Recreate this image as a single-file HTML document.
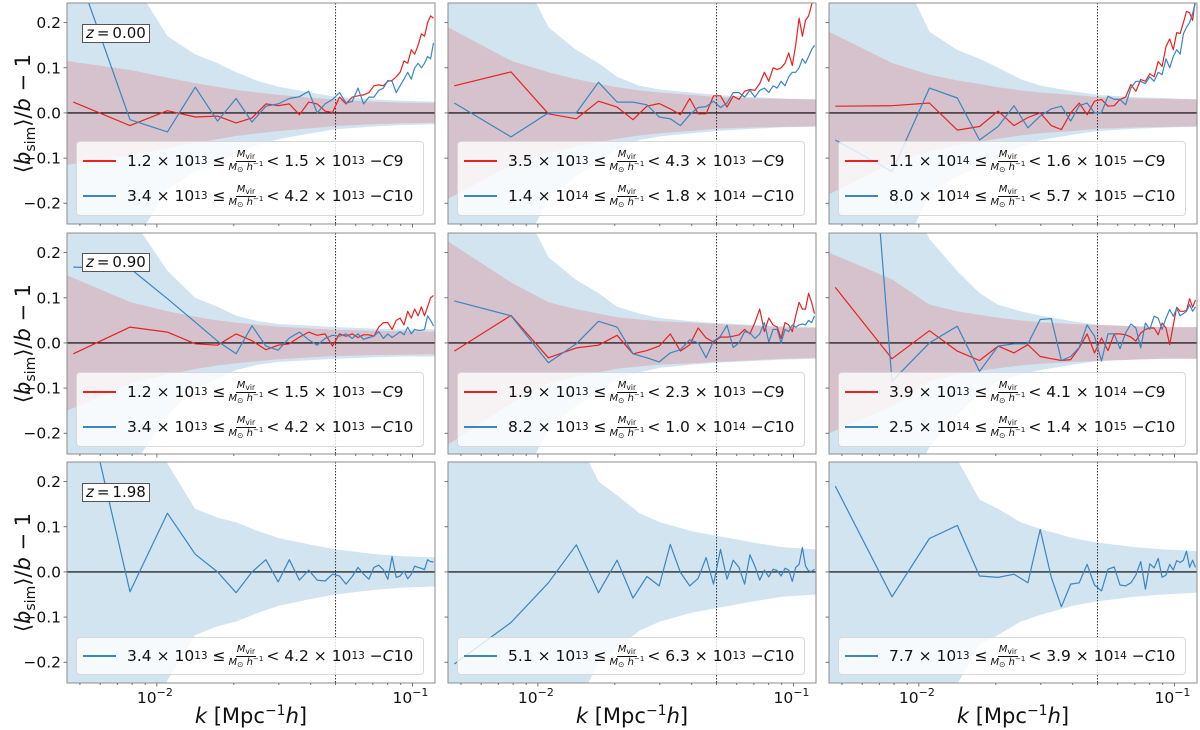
<!DOCTYPE html>
<html><head><meta charset="utf-8">
<style>
html,body{margin:0;padding:0;background:#fff;overflow:hidden;width:1200px;height:730px;}
#wrap{position:relative;width:1200px;height:730px;overflow:hidden;font-family:"DejaVu Sans","Liberation Sans",sans-serif;}
svg{position:absolute;left:0;top:0;}
.legend{position:absolute;width:348px;background:rgba(255,255,255,0.8);border:1px solid #d8d8d8;border-radius:4px;box-sizing:border-box;}
.entry{position:absolute;left:0;height:34px;display:flex;align-items:center;font-size:15.5px;color:#111;white-space:nowrap;}
.sw{display:inline-block;width:33px;height:1.6px;margin-left:6px;margin-right:11px;}
.frac{display:inline-flex;flex-direction:column;align-items:center;font-size:10px;line-height:12px;margin:0 3px;vertical-align:middle;}
.frac .num{border-bottom:1px solid #111;padding:0 1px;}
sup{font-size:10.5px;vertical-align:7px;line-height:0;}
sub{font-size:7.5px;vertical-align:-2px;line-height:0;}
.zbox{position:absolute;height:19px;padding:0 3px;border:1px solid #555;background:#fff;box-sizing:border-box;font-size:15px;line-height:17px;text-align:center;color:#111;white-space:nowrap;}
</style></head>
<body>
<div id="wrap">
<svg id="chart" width="1200" height="730"></svg>

<div class="zbox" style="left:82px;top:24px"><i>z</i>&#8201;=&#8201;0.00</div>
<div class="zbox" style="left:82px;top:253px"><i>z</i>&#8201;=&#8201;0.90</div>
<div class="zbox" style="left:82px;top:483px"><i>z</i>&#8201;=&#8201;1.98</div>

<div class="legend" style="left:76px;top:141px;height:75px">
 <div class="entry" style="top:2px"><span class="sw" style="background:#e8221f"></span>1.2 × 10<sup>13</sup>&nbsp;≤<span class="frac"><span class="num"><i>M</i><sub>vir</sub></span><span><i>M</i><sub>⊙</sub> <i>h</i><sup style="font-size:7px;vertical-align:4px">−1</sup></span></span>&lt; 1.5 × 10<sup>13</sup>&nbsp;− <i>C</i>9</div>
 <div class="entry" style="top:37px"><span class="sw" style="background:#3a85c2"></span>3.4 × 10<sup>13</sup>&nbsp;≤<span class="frac"><span class="num"><i>M</i><sub>vir</sub></span><span><i>M</i><sub>⊙</sub> <i>h</i><sup style="font-size:7px;vertical-align:4px">−1</sup></span></span>&lt; 4.2 × 10<sup>13</sup>&nbsp;− <i>C</i>10</div>
</div>
<div class="legend" style="left:457px;top:141px;height:75px">
 <div class="entry" style="top:2px"><span class="sw" style="background:#e8221f"></span>3.5 × 10<sup>13</sup>&nbsp;≤<span class="frac"><span class="num"><i>M</i><sub>vir</sub></span><span><i>M</i><sub>⊙</sub> <i>h</i><sup style="font-size:7px;vertical-align:4px">−1</sup></span></span>&lt; 4.3 × 10<sup>13</sup>&nbsp;− <i>C</i>9</div>
 <div class="entry" style="top:37px"><span class="sw" style="background:#3a85c2"></span>1.4 × 10<sup>14</sup>&nbsp;≤<span class="frac"><span class="num"><i>M</i><sub>vir</sub></span><span><i>M</i><sub>⊙</sub> <i>h</i><sup style="font-size:7px;vertical-align:4px">−1</sup></span></span>&lt; 1.8 × 10<sup>14</sup>&nbsp;− <i>C</i>10</div>
</div>
<div class="legend" style="left:838px;top:141px;height:75px">
 <div class="entry" style="top:2px"><span class="sw" style="background:#e8221f"></span>1.1 × 10<sup>14</sup>&nbsp;≤<span class="frac"><span class="num"><i>M</i><sub>vir</sub></span><span><i>M</i><sub>⊙</sub> <i>h</i><sup style="font-size:7px;vertical-align:4px">−1</sup></span></span>&lt; 1.6 × 10<sup>15</sup>&nbsp;− <i>C</i>9</div>
 <div class="entry" style="top:37px"><span class="sw" style="background:#3a85c2"></span>8.0 × 10<sup>14</sup>&nbsp;≤<span class="frac"><span class="num"><i>M</i><sub>vir</sub></span><span><i>M</i><sub>⊙</sub> <i>h</i><sup style="font-size:7px;vertical-align:4px">−1</sup></span></span>&lt; 5.7 × 10<sup>15</sup>&nbsp;− <i>C</i>10</div>
</div>
<div class="legend" style="left:76px;top:372px;height:75px">
 <div class="entry" style="top:2px"><span class="sw" style="background:#e8221f"></span>1.2 × 10<sup>13</sup>&nbsp;≤<span class="frac"><span class="num"><i>M</i><sub>vir</sub></span><span><i>M</i><sub>⊙</sub> <i>h</i><sup style="font-size:7px;vertical-align:4px">−1</sup></span></span>&lt; 1.5 × 10<sup>13</sup>&nbsp;− <i>C</i>9</div>
 <div class="entry" style="top:37px"><span class="sw" style="background:#3a85c2"></span>3.4 × 10<sup>13</sup>&nbsp;≤<span class="frac"><span class="num"><i>M</i><sub>vir</sub></span><span><i>M</i><sub>⊙</sub> <i>h</i><sup style="font-size:7px;vertical-align:4px">−1</sup></span></span>&lt; 4.2 × 10<sup>13</sup>&nbsp;− <i>C</i>10</div>
</div>
<div class="legend" style="left:457px;top:372px;height:75px">
 <div class="entry" style="top:2px"><span class="sw" style="background:#e8221f"></span>1.9 × 10<sup>13</sup>&nbsp;≤<span class="frac"><span class="num"><i>M</i><sub>vir</sub></span><span><i>M</i><sub>⊙</sub> <i>h</i><sup style="font-size:7px;vertical-align:4px">−1</sup></span></span>&lt; 2.3 × 10<sup>13</sup>&nbsp;− <i>C</i>9</div>
 <div class="entry" style="top:37px"><span class="sw" style="background:#3a85c2"></span>8.2 × 10<sup>13</sup>&nbsp;≤<span class="frac"><span class="num"><i>M</i><sub>vir</sub></span><span><i>M</i><sub>⊙</sub> <i>h</i><sup style="font-size:7px;vertical-align:4px">−1</sup></span></span>&lt; 1.0 × 10<sup>14</sup>&nbsp;− <i>C</i>10</div>
</div>
<div class="legend" style="left:838px;top:372px;height:75px">
 <div class="entry" style="top:2px"><span class="sw" style="background:#e8221f"></span>3.9 × 10<sup>13</sup>&nbsp;≤<span class="frac"><span class="num"><i>M</i><sub>vir</sub></span><span><i>M</i><sub>⊙</sub> <i>h</i><sup style="font-size:7px;vertical-align:4px">−1</sup></span></span>&lt; 4.1 × 10<sup>14</sup>&nbsp;− <i>C</i>9</div>
 <div class="entry" style="top:37px"><span class="sw" style="background:#3a85c2"></span>2.5 × 10<sup>14</sup>&nbsp;≤<span class="frac"><span class="num"><i>M</i><sub>vir</sub></span><span><i>M</i><sub>⊙</sub> <i>h</i><sup style="font-size:7px;vertical-align:4px">−1</sup></span></span>&lt; 1.4 × 10<sup>15</sup>&nbsp;− <i>C</i>10</div>
</div>
<div class="legend" style="left:76px;top:637px;height:38px">
 <div class="entry" style="top:1px"><span class="sw" style="background:#3a85c2"></span>3.4 × 10<sup>13</sup>&nbsp;≤<span class="frac"><span class="num"><i>M</i><sub>vir</sub></span><span><i>M</i><sub>⊙</sub> <i>h</i><sup style="font-size:7px;vertical-align:4px">−1</sup></span></span>&lt; 4.2 × 10<sup>13</sup>&nbsp;− <i>C</i>10</div>
</div>
<div class="legend" style="left:457px;top:637px;height:38px">
 <div class="entry" style="top:1px"><span class="sw" style="background:#3a85c2"></span>5.1 × 10<sup>13</sup>&nbsp;≤<span class="frac"><span class="num"><i>M</i><sub>vir</sub></span><span><i>M</i><sub>⊙</sub> <i>h</i><sup style="font-size:7px;vertical-align:4px">−1</sup></span></span>&lt; 6.3 × 10<sup>13</sup>&nbsp;− <i>C</i>10</div>
</div>
<div class="legend" style="left:838px;top:637px;height:38px">
 <div class="entry" style="top:1px"><span class="sw" style="background:#3a85c2"></span>7.7 × 10<sup>13</sup>&nbsp;≤<span class="frac"><span class="num"><i>M</i><sub>vir</sub></span><span><i>M</i><sub>⊙</sub> <i>h</i><sup style="font-size:7px;vertical-align:4px">−1</sup></span></span>&lt; 3.9 × 10<sup>14</sup>&nbsp;− <i>C</i>10</div>
</div>
</div>

<script>
const kVals = [0.00471,0.00785,0.01099,0.01413,0.01727,0.02041,0.02355,0.02669,0.02983,0.03297,0.03611,0.03925,0.04239,0.04553,0.04867,0.05181,0.05495,0.05809,0.06123,0.06437,0.06751,0.07065,0.07379,0.07693,0.08007,0.08321,0.08635,0.08949,0.09263,0.09577,0.09891,0.10205,0.10519,0.10833,0.11147,0.11461,0.11775,0.12089];
const bandK = [0.00445,0.0079,0.011,0.0141,0.0173,0.0204,0.025,0.03,0.04,0.05,0.07,0.09,0.123];
const yTicks = [-0.2,-0.1,0.0,0.1,0.2];
const yTickLabels = ["\u22120.2","\u22120.1","0.0","0.1","0.2"];
const kCut = 0.05;

const red_r1c1 = [0.024,-0.028,0.005,-0.009,-0.007,-0.022,-0.011,0.020,0.016,0.020,-0.004,0.024,0.020,0.004,0.001,0.035,0.020,0.035,0.038,0.040,0.045,0.060,0.062,0.060,0.070,0.072,0.080,0.090,0.115,0.110,0.140,0.130,0.150,0.175,0.170,0.200,0.215,0.210];
const blue_r1c1 = [0.34,-0.015,-0.042,0.057,-0.018,0.032,-0.020,0.015,0.020,0.032,0.036,0.048,0.000,0.020,0.030,0.045,0.022,0.025,0.055,0.020,0.035,0.035,0.050,0.055,0.072,0.070,0.045,0.060,0.075,0.090,0.075,0.100,0.110,0.100,0.110,0.125,0.120,0.155];
const red_r1c2 = [0.060,0.091,-0.002,-0.013,0.026,0.013,-0.015,0.015,0.021,0.009,-0.004,0.032,-0.002,-0.002,0.038,0.038,0.013,0.037,0.030,0.048,0.052,0.050,0.065,0.090,0.070,0.100,0.096,0.100,0.110,0.133,0.105,0.150,0.210,0.170,0.205,0.215,0.240,0.260];
const blue_r1c2 = [0.022,-0.053,0.000,0.000,0.068,0.024,0.024,0.018,-0.009,-0.013,-0.028,-0.004,0.012,0.014,0.026,0.012,0.022,0.045,0.045,0.035,0.050,0.035,0.050,0.055,0.045,0.060,0.055,0.070,0.060,0.080,0.090,0.090,0.100,0.120,0.110,0.125,0.140,0.150];
const red_r1c3 = [0.015,0.016,0.022,-0.038,-0.030,0.004,-0.028,-0.010,0.000,-0.028,-0.037,0.000,0.022,-0.004,0.026,0.030,0.015,0.016,0.030,0.035,0.063,0.048,0.074,0.070,0.087,0.080,0.114,0.103,0.147,0.164,0.140,0.178,0.176,0.200,0.225,0.222,0.205,0.255];
const blue_r1c3 = [-0.06,-0.13,0.055,0.033,-0.06,-0.03,0.016,-0.033,-0.007,0.009,0.015,-0.018,0.016,0.022,0.0,0.001,0.037,0.03,0.03,0.018,0.055,0.07,0.07,0.065,0.08,0.07,0.09,0.085,0.12,0.1,0.125,0.14,0.13,0.175,0.19,0.2,0.22,0.245];
const red_r2c1 = [-0.024,0.035,0.024,-0.002,-0.005,0.020,0.005,-0.015,-0.005,-0.002,0.013,0.024,0.017,0.020,-0.007,0.020,0.015,0.020,0.012,0.018,0.018,0.015,0.035,0.045,0.045,0.030,0.050,0.055,0.040,0.070,0.055,0.075,0.060,0.080,0.060,0.080,0.100,0.105];
const blue_r2c1 = [0.168,0.165,0.098,0.046,0.004,-0.024,0.038,-0.007,-0.016,0.011,0.024,0.007,-0.005,0.010,0.017,0.015,0.020,0.010,0.020,0.008,0.012,0.015,0.025,0.010,0.020,0.012,0.018,0.025,0.018,0.035,0.020,0.030,0.028,0.028,0.030,0.060,0.050,0.038];
const red_r2c2 = [-0.018,0.061,-0.033,-0.011,-0.005,0.017,-0.024,-0.017,-0.007,0.020,-0.018,-0.004,0.033,0.011,0.002,0.013,0.013,0.015,0.018,0.030,0.020,0.045,0.075,0.025,0.055,0.040,0.035,0.010,0.045,0.040,0.025,0.060,0.090,0.075,0.075,0.110,0.090,0.065];
const blue_r2c2 = [0.093,0.060,-0.044,-0.002,0.048,0.035,-0.024,-0.033,-0.042,-0.022,-0.015,0.007,0.000,-0.033,0.004,0.015,0.039,-0.010,0.000,0.025,0.022,0.010,0.020,0.045,0.002,0.030,0.030,0.000,0.030,0.025,0.040,0.035,0.040,0.042,0.040,0.050,0.045,0.060];
const red_r2c3 = [0.123,-0.035,0.027,-0.018,-0.039,-0.007,-0.022,-0.004,-0.030,-0.035,-0.039,-0.037,-0.011,0.020,-0.022,0.011,-0.017,0.020,0.020,0.018,0.013,0.004,0.022,0.030,0.033,0.033,0.018,0.044,0.033,-0.004,0.040,0.079,0.070,0.070,0.072,0.098,0.079,0.095];
const blue_r2c3 = [1.5,-0.085,0.000,0.037,-0.063,-0.007,-0.002,-0.002,0.052,0.054,-0.039,-0.030,-0.010,0.040,0.015,-0.040,0.020,0.020,-0.013,0.022,0.042,0.033,-0.011,0.044,0.030,0.059,0.055,0.030,0.055,0.074,0.059,0.077,0.060,0.065,0.070,0.085,0.070,0.080];
const blue_r3c1 = [0.50,-0.044,0.130,0.039,0.000,-0.046,0.000,0.027,-0.022,0.027,-0.018,0.004,-0.018,-0.020,-0.005,-0.009,-0.027,-0.010,0.010,-0.005,-0.016,0.010,0.015,0.005,-0.016,0.034,-0.012,-0.009,0.002,-0.015,-0.005,0.013,0.010,0.008,0.005,0.027,0.023,0.022];
const blue_r3c2 = [-0.204,-0.112,-0.024,0.060,-0.046,0.026,-0.058,-0.010,-0.031,0.061,-0.001,-0.031,-0.014,0.032,-0.027,0.050,-0.016,0.026,0.010,-0.027,0.038,0.013,-0.018,0.004,-0.011,0.006,0.003,-0.009,0.008,0.004,-0.021,0.010,0.017,0.054,0.013,0.002,0.001,0.006];
const blue_r3c3 = [0.190,-0.055,0.074,0.103,-0.009,-0.012,-0.005,-0.024,0.094,-0.012,-0.077,-0.027,-0.024,0.017,-0.029,-0.042,0.006,0.011,-0.029,-0.031,-0.024,-0.007,0.023,-0.038,0.018,0.009,0.030,-0.012,-0.007,0.017,0.004,0.025,0.021,0.026,0.046,0.010,0.026,0.010];

const bandBlue_r1c1 = [0.45,0.30,0.17,0.13,0.11,0.09,0.07,0.058,0.045,0.036,0.03,0.027,0.025];
const bandRed_r1c1 = [0.115,0.095,0.078,0.066,0.058,0.051,0.045,0.04,0.034,0.029,0.025,0.023,0.022];
const bandBlue_r1c2 = [0.5,0.35,0.19,0.14,0.11,0.08,0.06,0.052,0.045,0.04,0.035,0.032,0.03];
const bandRed_r1c2 = [0.19,0.115,0.09,0.075,0.065,0.057,0.05,0.045,0.04,0.035,0.032,0.031,0.03];
const bandBlue_r1c3 = [0.5,0.35,0.18,0.14,0.12,0.10,0.075,0.06,0.048,0.04,0.035,0.033,0.03];
const bandRed_r1c3 = [0.18,0.11,0.085,0.072,0.064,0.057,0.05,0.045,0.04,0.035,0.032,0.031,0.03];
const bandBlue_r2c1 = [0.45,0.28,0.16,0.10,0.08,0.06,0.048,0.042,0.038,0.035,0.032,0.03,0.03];
const bandRed_r2c1 = [0.15,0.09,0.07,0.058,0.05,0.045,0.04,0.036,0.032,0.029,0.027,0.026,0.025];
const bandBlue_r2c2 = [0.5,0.35,0.19,0.14,0.11,0.08,0.065,0.055,0.048,0.044,0.04,0.037,0.035];
const bandRed_r2c2 = [0.225,0.133,0.09,0.075,0.065,0.057,0.052,0.048,0.045,0.042,0.038,0.035,0.033];
const bandBlue_r2c3 = [0.6,0.4,0.23,0.16,0.11,0.085,0.07,0.06,0.048,0.04,0.037,0.035,0.035];
const bandRed_r2c3 = [0.2,0.14,0.085,0.07,0.062,0.056,0.05,0.046,0.042,0.04,0.037,0.035,0.035];
const bandBlue_r3c1 = [0.6,0.4,0.24,0.14,0.12,0.11,0.09,0.075,0.06,0.05,0.04,0.035,0.032];
const bandBlue_r3c2 = [0.6,0.5,0.4,0.3,0.2,0.17,0.13,0.11,0.09,0.08,0.065,0.055,0.05];
const bandBlue_r3c3 = [0.6,0.45,0.35,0.25,0.16,0.14,0.11,0.095,0.075,0.065,0.055,0.05,0.046];

const panels = [
 {r:0,c:0,red:red_r1c1,blue:blue_r1c1,bRed:bandRed_r1c1,bBlue:bandBlue_r1c1},
 {r:0,c:1,red:red_r1c2,blue:blue_r1c2,bRed:bandRed_r1c2,bBlue:bandBlue_r1c2},
 {r:0,c:2,red:red_r1c3,blue:blue_r1c3,bRed:bandRed_r1c3,bBlue:bandBlue_r1c3},
 {r:1,c:0,red:red_r2c1,blue:blue_r2c1,bRed:bandRed_r2c1,bBlue:bandBlue_r2c1},
 {r:1,c:1,red:red_r2c2,blue:blue_r2c2,bRed:bandRed_r2c2,bBlue:bandBlue_r2c2},
 {r:1,c:2,red:red_r2c3,blue:blue_r2c3,bRed:bandRed_r2c3,bBlue:bandBlue_r2c3},
 {r:2,c:0,red:null,blue:blue_r3c1,bRed:null,bBlue:bandBlue_r3c1},
 {r:2,c:1,red:null,blue:blue_r3c2,bRed:null,bBlue:bandBlue_r3c2},
 {r:2,c:2,red:null,blue:blue_r3c3,bRed:null,bBlue:bandBlue_r3c3}
];

const colX=[67,448,829], rowY=[3,233,462], W=368, H=221;
const yMin=-0.246, yMax=0.2435;
const lMin=Math.log10(0.00445), lMax=Math.log10(0.1225);
const NS="http://www.w3.org/2000/svg";
const svg=document.getElementById('chart');
function mk(tag,attrs,parent){const e=document.createElementNS(NS,tag);for(const a in attrs)e.setAttribute(a,attrs[a]);(parent||svg).appendChild(e);return e;}
function xS(c,k){return colX[c]+(Math.log10(k)-lMin)/(lMax-lMin)*W;}
function yS(r,v){return rowY[r]+(yMax-v)/(yMax-yMin)*H;}

const defs=mk('defs',{});
panels.forEach((p,i)=>{
  const x0=colX[p.c], y0=rowY[p.r];
  const cp=mk('clipPath',{id:'cp'+i},defs);
  mk('rect',{x:x0,y:y0,width:W,height:H},cp);
  const g=mk('g',{'clip-path':'url(#cp'+i+')'});
  
  
  function band(arr,fill,op,name){
    let pts=[];
    for(let j=0;j<bandK.length;j++)pts.push(xS(p.c,bandK[j]).toFixed(1)+','+yS(p.r,arr[j]).toFixed(1));
    for(let j=bandK.length-1;j>=0;j--)pts.push(xS(p.c,bandK[j]).toFixed(1)+','+yS(p.r,-arr[j]).toFixed(1));
    const e=mk('polygon',{points:pts.join(' '),fill:fill,'fill-opacity':op},g);
    
    
  }
  band(p.bBlue,'#1f77b4',0.2,'c10-error-band');
  if(p.bRed) band(p.bRed,'#f02020',0.17,'c9-error-band');
  const zl=mk('line',{x1:x0,x2:x0+W,y1:yS(p.r,0),y2:yS(p.r,0),stroke:'#000','stroke-width':1.2},g);
  
  
  const xc=xS(p.c,kCut);
  const vl=mk('line',{x1:xc,x2:xc,y1:y0,y2:y0+H,stroke:'#333','stroke-width':1,'stroke-dasharray':'1.5,1.5'},g);
  
  
  function series(arr,color,name){
    const n=Math.min(arr.length,kVals.length);
    let d='';
    for(let j=0;j<n;j++)d+=(j?'L':'M')+xS(p.c,kVals[j]).toFixed(1)+','+yS(p.r,arr[j]).toFixed(1);
    const e=mk('path',{d:d,fill:'none',stroke:color,'stroke-width':1.2,'stroke-linejoin':'round'},g);
    
    
  }
  if(p.red) series(p.red,'#e8221f','c9-series-line');
  series(p.blue,'#3a85c2','c10-series-line');
  const fr=mk('rect',{x:x0,y:y0,width:W,height:H,fill:'none',stroke:'#8c8c8c','stroke-width':1});
  
  
  yTicks.forEach((t,ti)=>{
    const yy=yS(p.r,t);
    mk('line',{x1:x0-3.5,x2:x0,y1:yy,y2:yy,stroke:'#555','stroke-width':0.8});
    if(p.c===0){
      const tx=mk('text',{x:x0-6,y:yy+5.5,'text-anchor':'end','font-size':15.5,fill:'#111','font-family':'DejaVu Sans, Liberation Sans, sans-serif'});
      tx.textContent=yTickLabels[ti];
      
      
    }
  });
  for(let dec=-3;dec<=-1;dec++){
    for(let m=1;m<=9;m++){
      const k=m*Math.pow(10,dec);
      if(k<0.00445||k>0.1225)continue;
      const xx=xS(p.c,k), len=(m===1)?3.5:2;
      mk('line',{x1:xx,x2:xx,y1:y0+H,y2:y0+H+len,stroke:'#555','stroke-width':0.8});
    }
  }
  if(p.r===2){
    [[-2,'\u22122'],[-1,'\u22121']].forEach(([e,lab])=>{
      const xx=xS(p.c,Math.pow(10,e));
      const t=mk('text',{x:xx-2,y:y0+H+20,'text-anchor':'middle','font-size':15.5,fill:'#111','font-family':'DejaVu Sans, Liberation Sans, sans-serif'});
      
      
      t.appendChild(document.createTextNode('10'));
      const s=mk('tspan',{dy:-7,'font-size':11},t); s.textContent=lab;
    });
    const xl=mk('text',{x:colX[p.c]+W/2,y:723,'text-anchor':'middle','font-size':21,fill:'#111','font-family':'DejaVu Sans, Liberation Sans, sans-serif'});
    
    
    const a=mk('tspan',{'font-style':'italic'},xl); a.textContent='k';
    const b=mk('tspan',{},xl); b.textContent=' [Mpc';
    const c=mk('tspan',{dy:-8,'font-size':14},xl); c.textContent='\u22121';
    const d=mk('tspan',{dy:8,'font-style':'italic'},xl); d.textContent='h';
    const e2=mk('tspan',{},xl); e2.textContent=']';
  }
  if(p.c===0){
    const cy=y0+H/2;
    const yl=mk('text',{x:0,y:0,transform:'translate(30,'+cy+') rotate(-90)','text-anchor':'middle','font-size':21,fill:'#111','font-family':'DejaVu Sans, Liberation Sans, sans-serif'});
    
    
    const a=mk('tspan',{},yl); a.textContent='\u27E8';
    const b=mk('tspan',{'font-style':'italic'},yl); b.textContent='b';
    const c=mk('tspan',{dy:5,'font-size':14},yl); c.textContent='sim';
    const d=mk('tspan',{dy:-5},yl); d.textContent='\u27E9/';
    const e=mk('tspan',{'font-style':'italic'},yl); e.textContent='b';
    const f=mk('tspan',{},yl); f.textContent=' \u2212 1';
  }
});
</script>
</body></html>
